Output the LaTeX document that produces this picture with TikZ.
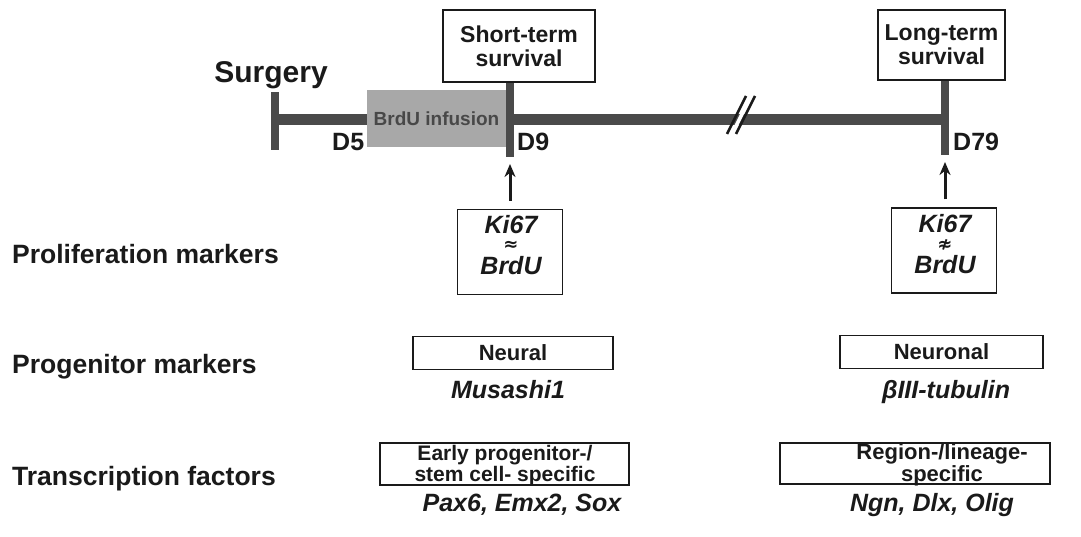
\documentclass[tikz,border=0pt]{standalone}
\usepackage{fontspec}
\setmainfont{Liberation Sans}
\newfontfamily\symfont{DejaVu Sans}
\usetikzlibrary{arrows.meta}
\definecolor{tl}{HTML}{4A4A4A}
\definecolor{shade}{HTML}{A8A8A8}
\definecolor{ink}{HTML}{1A1A1A}
\newcommand{\fsz}[2]{\fontsize{#1}{#2}\selectfont}
\begin{document}
\begin{tikzpicture}[x=1pt,y=-1pt,
  lbl/.style={font=\bfseries\fsz{26.5}{28}, text=ink, inner sep=0, anchor=base west},
  boxs/.style={draw=ink, line width=1.5pt, inner sep=0, align=center, text=ink},
  gene/.style={font=\bfseries\itshape\fsz{25}{27}, inner sep=0, text=ink, anchor=base},
  kitxt/.style={font=\bfseries\itshape\fsz{25}{27}, inner sep=0, text=ink, anchor=base},
  symb/.style={font=\symfont\bfseries\fsz{18}{18}, inner sep=0, text=ink},
  dlab/.style={font=\bfseries\fsz{25}{27}, inner sep=0, text=ink, anchor=base west},
  bar/.style={line width=8.5pt, draw=tl},
  arr/.style={line width=3pt, draw=ink, -{Stealth[length=13pt,width=11pt]}, shorten <=8pt, shorten >=7pt}]
\useasboundingbox (0,0) rectangle (1081,536);
\fill[white] (0,0) rectangle (1081,536);

% timeline
\coordinate (sL) at (275,119);
\coordinate (eL) at (945,119);
\coordinate (s0) at (275,92);  \coordinate (s1) at (275,150);
\coordinate (d9t) at (510,82); \coordinate (d9b) at (510,157);
\coordinate (d79t) at (945,80); \coordinate (d79b) at (945,155);
\draw[tl, line width=11pt] (sL) -- (eL);
\draw[bar] (s0) -- (s1);
\node[fill=shade, minimum width=139pt, minimum height=57pt, inner sep=0,
  font=\bfseries\fsz{19}{20}, text=ink!80] (brdu) at (436.5,118.5) {BrdU infusion};
\draw[bar] (d9t) -- (d9b);
\draw[bar] (d79t) -- (d79b);

% break mark
\fill[white] (730,134) -- (749,96) -- (753,96) -- (734,134) -- cycle;
\draw[ink, line width=2.5pt] (727,134) -- (746,96);
\draw[ink, line width=2.5pt] (736,134) -- (755,96);

% labels on timeline
\node[font=\bfseries\fsz{30}{32}, text=ink, inner sep=0, anchor=base] (surg) at (271,82) {Surgery};
\node[dlab] (d5) at (332,150) {D5};
\node[dlab] (d9) at (517,150) {D9};
\node[dlab] (d79) at (953,150) {D79};

\node[boxs, font=\bfseries\fsz{23}{24}, minimum width=152pt, minimum height=72pt] (st) at (519,46) {Short-term\\survival};
\node[boxs, font=\bfseries\fsz{23}{24}, minimum width=127pt, minimum height=70pt] (lt) at (941.5,45) {Long-term\\survival};

% proliferation markers
\node[boxs, minimum width=105pt, minimum height=85pt] (ki1) at (510,252) {};
\node[kitxt] (ki1a) at (511,233) {Ki67};
\node[symb] (ki1b) at (511,245.5) {≈};
\node[kitxt] (ki1c) at (511,274) {BrdU};
\node[boxs, minimum width=105pt, minimum height=85pt] (ki2) at (944,250.5) {};
\node[kitxt] (ki2a) at (945,232) {Ki67};
\node[symb] (ki2b) at (945,244.5) {≉};
\node[kitxt] (ki2c) at (945,273) {BrdU};
\draw[arr] (ki1.north) -- (d9b);
\draw[arr] (ki2.north -| d79b) -- (d79b);

% row labels
\node[lbl] (pl) at (12,263) {Proliferation markers};
\node[lbl] (pg) at (12,373) {Progenitor markers};
\node[lbl] (tf) at (12,485) {Transcription factors};

% progenitor markers
\node[boxs, font=\bfseries\fsz{22}{24}, minimum width=200pt, minimum height=33pt] (neural) at (513,353) {Neural};
\node[boxs, font=\bfseries\fsz{22}{24}, minimum width=203pt, minimum height=33pt] (neuronal) at (941.5,352) {Neuronal};
\node[gene] (mus) at (508,398) {Musashi1};
\node[gene] (tub) at (946,398) {βIII-tubulin};

% transcription factors
\node[boxs, minimum width=249pt, minimum height=42pt] (early) at (504.5,464) {};
\node[font=\bfseries\fsz{21}{16}, text=ink, inner sep=0, align=center] (earlyt) at (505,465.5)
  {Early progenitor-/\\stem cell- specific};
\node[boxs, minimum width=270pt, minimum height=41pt] (reg) at (915,463.5) {};
\node[font=\bfseries\fsz{22}{14.5}, text=ink, inner sep=0, align=center] (regt) at (942,465) {Region-/lineage-\\specific};
\node[gene] (pax) at (522,511) {Pax6, Emx2, Sox};
\node[gene] (ngn) at (932,511) {Ngn, Dlx, Olig};
\end{tikzpicture}
\end{document}
